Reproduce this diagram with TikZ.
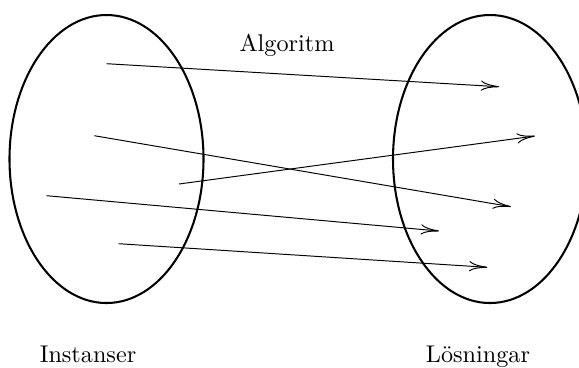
\documentclass[tikz,border=0pt]{standalone}
\usetikzlibrary{arrows.meta}
\begin{document}
\begin{tikzpicture}[x=0.4132pt,y=-0.4132pt,
  setshape/.style={line width=0.85pt},
  maparrow/.style={line width=0.4pt,-{To[length=7.5pt,width=4.2pt]}},
  lbl/.style={anchor=base,inner sep=0pt}]
\useasboundingbox (0,0) rectangle (579,367);
\draw[setshape] (106.5,159) ellipse [x radius=97,y radius=144];
\draw[setshape] (490,159) ellipse [x radius=97,y radius=144];
\coordinate (a1) at (106.7,63.7);  \coordinate (b1) at (499,86.7);
\coordinate (a2) at (94.3,135.7);  \coordinate (b2) at (511,206.7);
\coordinate (a3) at (179,184);     \coordinate (b3) at (535,136);
\coordinate (a4) at (46.7,195.7);  \coordinate (b4) at (439,231);
\coordinate (a5) at (118.7,243.7); \coordinate (b5) at (487.3,267.3);
\draw[maparrow] (a1) -- (b1);
\draw[maparrow] (a2) -- (b2);
\draw[maparrow] (a3) -- (b3);
\draw[maparrow] (a4) -- (b4);
\draw[maparrow] (a5) -- (b5);
\node[lbl] (alg) at (287,51.5) {Algoritm};
\node[lbl] (inst) at (88,362) {Instanser};
\node[lbl] (los) at (478,362) {Lösningar};
\end{tikzpicture}
\end{document}
